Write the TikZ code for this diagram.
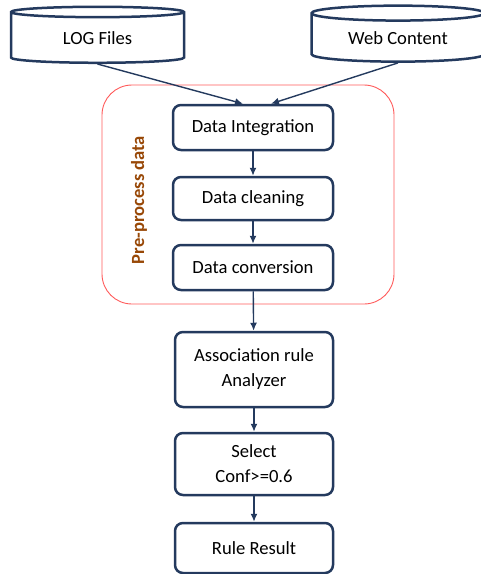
\documentclass[tikz,border=0pt]{standalone}
\usepackage{fontspec}
\setmainfont{Carlito}
\usepackage{xcolor}
\usetikzlibrary{shapes.geometric,arrows.meta}
\definecolor{navy}{RGB}{36,58,94}
\definecolor{framered}{RGB}{255,90,90}
\definecolor{brownish}{RGB}{152,72,7}
\begin{document}
\begin{tikzpicture}[x=1pt,y=-1pt,
        store/.style={cylinder,shape border rotate=90,draw=navy,line width=2.5pt,aspect=0.15,minimum width=173pt,minimum height=56pt,inner sep=0pt},
        stepbox/.style={draw=navy,line width=2.5pt,rounded corners=8pt,align=center,inner sep=0pt},
        link/.style={draw=navy,line width=1.4pt,-{Latex[length=8pt,width=7pt]}}]
        \useasboundingbox (0,0) rectangle (481,574);
        \fontsize{18.6}{25}\selectfont
        \node at (97.5,38) [store] (logs) {LOG Files};
        \node at (398,38) [store] (web) {Web Content};

        \draw[framered,line width=0.9pt,rounded corners=30pt] (102,85) rectangle (394,304);
        \node at (139,200) [rotate=90,text=brownish,font=\bfseries] (prep) {Pre-process data};

        \node at (253,127.5) [stepbox,minimum width=160pt,minimum height=45pt] (integ) {Data Integration};
        \node at (253,198.5) [stepbox,minimum width=160pt,minimum height=43pt] (clean) {Data cleaning};
        \node at (253,267.5) [stepbox,minimum width=160pt,minimum height=45pt] (conv) {Data conversion};
        \node at (254,369.5) [stepbox,minimum width=158pt,minimum height=75pt] (assoc) {Association rule\\Analyzer};
        \node at (254,464) [stepbox,minimum width=158pt,minimum height=62pt] (select) {Select\\Conf>=0.6};
        \node at (254,548) [stepbox,minimum width=158pt,minimum height=50pt] (result) {Rule Result};

        \draw[link] (logs.south) -- ([xshift=-10pt]integ.north);
        \draw[link] (web.south) -- ([xshift=18pt]integ.north);
        \draw[link] (integ) -- (clean);
        \draw[link] (clean) -- (conv);
        \draw[link] (conv) -- (assoc);
        \draw[link] (assoc) -- (select);
        \draw[link] (select) -- (result);
\end{tikzpicture}
\end{document}
